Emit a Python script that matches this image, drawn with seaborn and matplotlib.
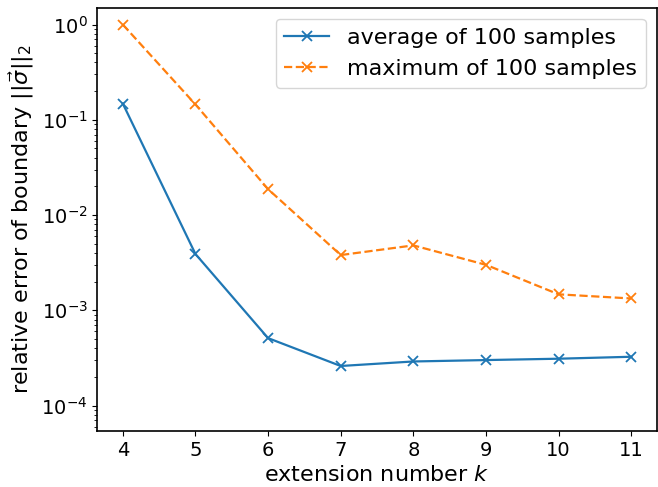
import numpy as np
import pandas as pd
import matplotlib
matplotlib.use("Agg")
import matplotlib.pyplot as plt
import seaborn as sns

# values
k = [4, 5, 6, 7, 8, 9, 10, 11]
avg_err = [0.148, 3.9e-3, 5.1e-4, 2.6e-4, 2.9e-4, 3.0e-4, 3.1e-4, 3.25e-4]
max_err = [1.0, 0.145, 0.0187, 3.8e-3, 4.8e-3, 3.0e-3, 1.47e-3, 1.33e-3]
labels = ["average of 100 samples", "maximum of 100 samples"]

plt.rcParams["font.size"] = 14
plt.rcParams["axes.linewidth"] = 1.2
fig, ax = plt.subplots(figsize=(6.58, 4.87), dpi=100)

# average: solid blue
sns.lineplot(x=k, y=avg_err, color="#1f77b4", marker="x", markersize=7,
             mec="#1f77b4", mew=1.3, linewidth=1.6, label=labels[0], ax=ax)
# maximum: dashed orange
sns.lineplot(x=k, y=max_err, color="#ff7f0e", marker="x", markersize=7,
             mec="#ff7f0e", mew=1.3, linewidth=1.6, linestyle="--",
             label=labels[1], ax=ax)

ax.set_yscale("log")
ax.set_ylim(5.4e-5, 1.5)
ax.set_xlim(3.65, 11.35)
ax.set_xticks(k)
ax.set_xlabel(r"extension number $k$", fontsize=16)
ax.set_ylabel(r"relative error of boundary $||\vec{\sigma}||_2$", fontsize=16)
ax.legend(loc="upper right", fontsize=16)
fig.subplots_adjust(left=0.148, right=0.998, top=0.984, bottom=0.115)
fig.savefig("out.png", dpi=100)
